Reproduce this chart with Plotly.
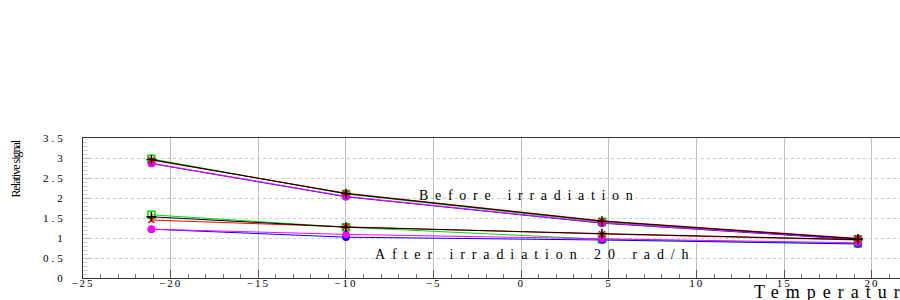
import plotly.graph_objects as go

# Data
temperature = [-21.1, -10.0, 4.6, 19.2]

before_green = [2.98, 2.10, 1.40, 0.97]
before_black = [2.96, 2.11, 1.42, 0.98]
before_red = [2.95, 2.12, 1.43, 0.99]
before_blue = [2.86, 2.03, 1.37, 0.96]
before_magenta = [2.87, 2.04, 1.38, 0.97]

after_green = [1.58, 1.27, 0.97, 0.86]
after_black = [1.53, 1.27, 1.11, 0.96]
after_red = [1.45, 1.28, 1.10, 0.95]
after_blue = [1.22, 1.02, 0.95, 0.85]
after_magenta = [1.22, 1.09, 0.98, 0.88]

x_ticks = [-25, -20, -15, -10, -5, 0, 5, 10, 15, 20]
y_ticks = [0, 0.5, 1, 1.5, 2, 2.5, 3, 3.5]

label_before = "Before irradiation"
label_after = "After irradiation 20 rad/h"
x_title = "Temperature"
y_title = "Relative signal"

SERIF = "Liberation Serif, Times New Roman, serif"

styles = {
    "green": dict(color="#00dd00", symbol="square-open", size=7),
    "black": dict(color="#000000", symbol="cross-thin", size=7),
    "red": dict(color="#ff0000", symbol="x-thin", size=6),
    "blue": dict(color="#0000ff", symbol="circle", size=6),
    "magenta": dict(color="#ff00ff", symbol="circle", size=6),
}

series = [
    ("green", before_green), ("blue", before_blue), ("magenta", before_magenta),
    ("red", before_red), ("black", before_black),
    ("green", after_green), ("blue", after_blue), ("magenta", after_magenta),
    ("red", after_red), ("black", after_black),
]

fig = go.Figure()
for cname, vals in series:
    s = styles[cname]
    fig.add_trace(go.Scatter(
        x=temperature, y=vals, mode="lines+markers",
        line=dict(color=s["color"], width=1),
        marker=dict(symbol=s["symbol"], size=s["size"], color=s["color"],
                    line=dict(color=s["color"], width=1.5)),
        showlegend=False, cliponaxis=False,
    ))

def spaced(t, px):
    return '<span style="letter-spacing:%spx">%s</span>' % (px, t)

fig.update_layout(
    width=900, height=300,
    margin=dict(l=83, r=0, t=138, b=22),
    paper_bgcolor="white", plot_bgcolor="white",
    font=dict(family=SERIF, color="black", size=11),
    xaxis=dict(
        range=[-25, 21.6], tickvals=x_ticks,
        ticktext=[spaced(str(v).replace("-", "\u2212"), 2) for v in x_ticks],
        showgrid=True, gridcolor="#c0c0c0", gridwidth=1, griddash="solid",
        showline=True, linecolor="#333333", linewidth=1, mirror=True,
        ticks="inside", ticklen=8, tickcolor="#555555",
        minor=dict(dtick=1, ticks="inside", ticklen=4, tickcolor="#777777", showgrid=False),
        zeroline=False, tickfont=dict(size=11), ticklabelstandoff=-5,
    ),
    yaxis=dict(
        range=[0, 3.5], tickvals=y_ticks,
        ticktext=[spaced(("%g" % v), 3) for v in y_ticks],
        showgrid=True, gridcolor="#cccccc", gridwidth=1, griddash="dot",
        showline=True, linecolor="#333333", linewidth=1, mirror=False,
        ticks="inside", ticklen=8, tickcolor="#bbbbbb",
        minor=dict(dtick=0.1, ticks="inside", ticklen=4, tickcolor="#cccccc", showgrid=False),
        zeroline=False, tickfont=dict(size=11), ticklabelstandoff=14,
    ),
    annotations=[
        dict(text=spaced(label_before, 6.7), xref="paper", yref="paper",
             x=(529 - 83) / 817, y=(278 - 195.5) / 140, xanchor="center", yanchor="middle",
             showarrow=False, font=dict(family=SERIF, size=14, color="black")),
        dict(text=spaced(label_after, 6.9), xref="paper", yref="paper",
             x=(535 - 83) / 817, y=(278 - 254) / 140, xanchor="center", yanchor="middle",
             showarrow=False, font=dict(family=SERIF, size=14, color="black")),
        dict(text=spaced(x_title, 7), xref="paper", yref="paper",
             x=(752 - 83) / 817, y=(278 - 291.5) / 140, xanchor="left", yanchor="middle",
             showarrow=False, font=dict(family=SERIF, size=18, color="black")),
        dict(text=spaced(y_title, -1), xref="paper", yref="paper", textangle=-90,
             x=(15 - 83) / 817, y=(278 - 168.5) / 140, xanchor="center", yanchor="middle",
             showarrow=False, font=dict(family=SERIF, size=12, color="black")),
    ],
)

fig.write_html("out.html", config={"displayModeBar": False},
               post_script="document.body.style.margin='0';document.body.style.overflow='hidden';")
